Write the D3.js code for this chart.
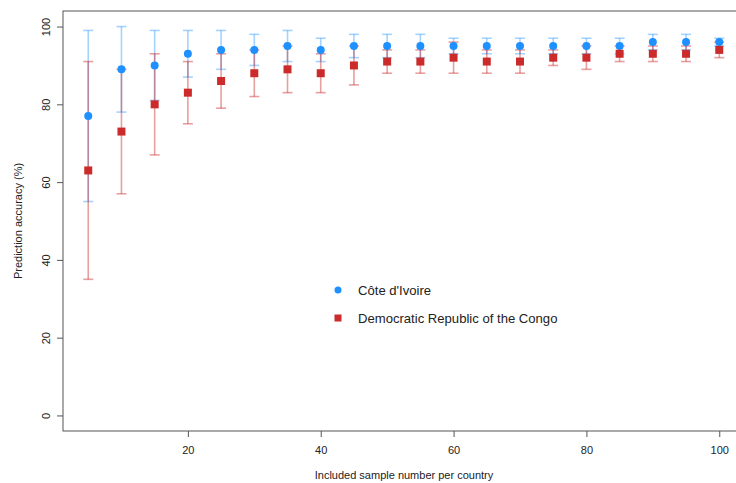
<!DOCTYPE html>
<html>
<head>
<meta charset="utf-8">
<script src="https://cdn.jsdelivr.net/npm/d3@7"></script>
<style>
  body { margin: 0; background: #fff; }
  text { font-family: "Liberation Sans", Arial, sans-serif; fill: #222; }
</style>
</head>
<body>
<div id="chart"></div>
<script>
// sample sizes on the x axis
const sampleSizes = [5, 10, 15, 20, 25, 30, 35, 40, 45, 50, 55, 60, 65, 70, 75, 80, 85, 90, 95, 100];

// Cote d'Ivoire: mean, lower, upper
const civMean = [77, 89, 90, 93, 94, 94, 95, 94, 95, 95, 95, 95, 95, 95, 95, 95, 95, 96, 96, 96];
const civLow = [55, 78, 81, 87, 89, 90, 91, 91, 92, 92, 92, 93, 93, 93, 93, 93, 93, 94, 94, 95];
const civHigh = [99, 100, 99, 99, 99, 98, 99, 97, 98, 98, 98, 97, 97, 97, 97, 97, 97, 98, 98, 97];

// DR Congo: mean, lower, upper
const drcMean = [63, 73, 80, 83, 86, 88, 89, 88, 90, 91, 91, 92, 91, 91, 92, 92, 93, 93, 93, 94];
const drcLow = [35, 57, 67, 75, 79, 82, 83, 83, 85, 88, 88, 88, 88, 88, 90, 89, 91, 91, 91, 92];
const drcHigh = [91, 89, 93, 91, 93, 94, 95, 93, 95, 94, 94, 96, 94, 94, 94, 95, 95, 95, 95, 96];

const yTicks = [0, 20, 40, 60, 80, 100];
const xTicks = [20, 40, 60, 80, 100];

const seriesNames = ["Côte d'Ivoire", "Democratic Republic of the Congo"];
const blue = "#1e90ff", red = "#cc2b2b";

const width = 736, height = 483;
const margin = {top: 11, left: 63, bottom: 52};

const svg = d3.select("#chart").append("svg")
    .attr("width", width)
    .attr("height", height);

// R style: 4% padding around the data range
const x = d3.scaleLinear().domain([1.2, 103.8]).range([margin.left, 744.5]);
const y = d3.scaleLinear().domain([-4, 104]).range([height - margin.bottom, margin.top]);

// box
svg.append("rect")
    .attr("x", margin.left).attr("y", margin.top)
    .attr("width", 744.5 - margin.left).attr("height", height - margin.bottom - margin.top)
    .attr("fill", "none").attr("stroke", "#555").attr("stroke-width", 1);

// axes
const xAxis = svg.append("g")
    .attr("transform", "translate(0," + (height - margin.bottom) + ")")
    .call(d3.axisBottom(x).tickValues(xTicks).tickSize(6).tickPadding(9));
const yAxis = svg.append("g")
    .attr("transform", "translate(" + margin.left + ",0)")
    .call(d3.axisLeft(y).tickValues(yTicks).tickSize(6));
[xAxis, yAxis].forEach(a => {
    a.select(".domain").remove();
    a.selectAll("line").attr("stroke", "#555");
    a.selectAll("text").attr("font-size", 11).attr("fill", "#222");
});
// vertical y tick labels like base R
yAxis.selectAll(".tick text")
    .attr("x", null).attr("dy", null)
    .attr("text-anchor", "middle")
    .attr("transform", "translate(-17,0) rotate(-90)")
    .attr("dy", "0.35em");

// axis titles
svg.append("text")
    .attr("x", 404).attr("y", 479)
    .attr("text-anchor", "middle").attr("font-size", 11)
    .text("Included sample number per country");
svg.append("text")
    .attr("transform", "translate(22," + y(50) + ") rotate(-90)")
    .attr("text-anchor", "middle").attr("font-size", 11)
    .text("Prediction accuracy (%)");

function drawBars(low, high, color, op) {
    const g = svg.append("g")
        .attr("stroke", color).attr("stroke-opacity", op).attr("stroke-width", 1.6);
    sampleSizes.forEach((s, i) => {
        const cx = x(s);
        g.append("line").attr("x1", cx).attr("x2", cx).attr("y1", y(low[i])).attr("y2", y(high[i]));
        g.append("line").attr("x1", cx - 5).attr("x2", cx + 5).attr("y1", y(low[i])).attr("y2", y(low[i]));
        g.append("line").attr("x1", cx - 5).attr("x2", cx + 5).attr("y1", y(high[i])).attr("y2", y(high[i]));
    });
}

drawBars(civLow, civHigh, blue, 0.4);
drawBars(drcLow, drcHigh, red, 0.45);

svg.append("g").selectAll("circle")
    .data(civMean)
    .join("circle")
    .attr("cx", (d, i) => x(sampleSizes[i]))
    .attr("cy", d => y(d))
    .attr("r", 4)
    .attr("fill", blue);

svg.append("g").selectAll("rect")
    .data(drcMean)
    .join("rect")
    .attr("x", (d, i) => x(sampleSizes[i]) - 4)
    .attr("y", d => y(d) - 4)
    .attr("width", 8).attr("height", 8)
    .attr("fill", red);

// legend
const legend = svg.append("g").attr("transform", "translate(338,290)");
legend.append("circle").attr("cx", 0).attr("cy", 0).attr("r", 3.5).attr("fill", blue);
legend.append("rect").attr("x", -3.5).attr("y", 28 - 3.5).attr("width", 7).attr("height", 7).attr("fill", red);
legend.selectAll("text.lab")
    .data(seriesNames)
    .join("text")
    .attr("class", "lab")
    .attr("x", 20)
    .attr("y", (d, i) => i * 28)
    .attr("dy", "0.35em")
    .attr("font-size", 13.1)
    .text(d => d);
</script>
</body>
</html>
